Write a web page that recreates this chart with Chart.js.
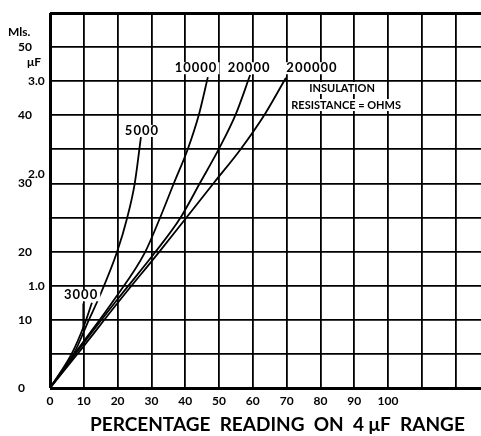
<!DOCTYPE html>
<html>
<head>
<meta charset="utf-8">
<script src="https://cdn.jsdelivr.net/npm/chart.js@4"></script>
<style>
  body { margin: 0; background: #fff; }
  #wrap { width: 481px; height: 436px; }
</style>
</head>
<body>
<div id="wrap"><canvas id="chart"></canvas></div>
<script>
// percentage reading (x) against capacity in Mls (y), one pair per insulation resistance
const pct3000 = [0, 6.5, 10.1, 12.4]
const mls3000 = [0, 5.1, 9.2, 12.5]
const pct5000 = [0, 7.1, 11.5, 14.8, 19.8, 22.8, 25.1, 26.9]
const mls5000 = [0, 5.1, 10, 13.6, 19.9, 24.9, 30.1, 36.8]
const pct10000 = [0, 7.4, 18.9, 28.1, 32.5, 36.7, 40.8, 44.1, 46.7]
const mls10000 = [0, 5.1, 12.9, 19.9, 24.9, 30.1, 35.1, 40.2, 45.6]
const pct20000 = [0, 7.7, 19.8, 31.1, 38.5, 44.4, 50.0, 55.0, 59.2]
const mls20000 = [0, 5.1, 12.9, 19.9, 24.9, 30.1, 35.1, 40.2, 45.9]
const pct200000 = [0, 8.3, 20.7, 32.2, 40.2, 48.5, 56.5, 63.6, 69.8]
const mls200000 = [0, 5.1, 12.9, 19.9, 24.9, 30.1, 35.1, 40.2, 45.5]

// little pointer under the 3000 label
const pctLeader = [9.8, 9.8]
const mlsLeader = [8.6, 12.4]

// axes
const xTicks = [0, 10, 20, 30, 40, 50, 60, 70, 80, 90, 100, 110, 120]
const xLabelMax = 100
const mlsLabels = [0, 10, 20, 30, 40, 50]
const mfTicks = [1, 2, 3]
const mfText = ['1.0', '2.0', '3.0']

// curve names, written next to the curve ends
const noteText = ['3000', '5000', '10000', '20000', '200000', 'INSULATION', 'RESISTANCE = OHMS']
const noteX = [9.2, 27.2, 43.2, 58.9, 77.5, 86.4, 87.6]
const noteY = [13.6, 37.7, 46.9, 46.9, 46.9, 44.0, 41.5]

const FONT = 'Lato'

function toPoints(xs, ys) {
    return xs.map((v, i) => ({x: v, y: ys[i]}))
}

function curve(xs, ys, w) {
    return {
        data: toPoints(xs, ys),
        borderColor: '#000',
        borderWidth: w || 1.8,
        pointRadius: 0,
        cubicInterpolationMode: 'monotone',
        fill: false
    }
}

const notes = {
    id: 'notes',
    afterDatasetsDraw(chart) {
        const ctx = chart.ctx
        const x = chart.scales.x
        const y = chart.scales.y
        ctx.save()
        ctx.textAlign = 'center'
        ctx.textBaseline = 'middle'
        noteText.forEach((t, i) => {
            ctx.font = (i < 5 ? 'bold 13px ' : 'bold 11px ') + FONT
            ctx.letterSpacing = i < 5 ? '1px' : '0px'
            const px = x.getPixelForValue(noteX[i])
            const py = y.getPixelForValue(noteY[i])
            const w = ctx.measureText(t).width
            ctx.fillStyle = '#fff'
            ctx.fillRect(px - w / 2 - 2, py - 6, w + 4, 12)
            ctx.fillStyle = '#000'
            ctx.fillText(t, px, py)
        })
        ctx.letterSpacing = '0px'

        // axis names
        const area = chart.chartArea
        ctx.textAlign = 'left'
        ctx.font = 'bold 12px ' + FONT
        ctx.fillText('Mls.', 8, 32)
        ctx.fillText('μF', 27, 62)
        ctx.font = 'bold 19px ' + FONT
        ctx.fillText('PERCENTAGE  READING  ON  4 μF  RANGE', area.left + 40, 425)
        ctx.restore()
    }
}

const edge = (v, a, b) => (v === a || v === b) ? 3 : 1.8

new Chart(document.getElementById('chart'), {
    type: 'line',
    data: {
        datasets: [
            curve(pct3000, mls3000),
            curve(pct5000, mls5000),
            curve(pct10000, mls10000),
            curve(pct20000, mls20000),
            curve(pct200000, mls200000),
            curve(pctLeader, mlsLeader, 1.4)
        ]
    },
    options: {
        responsive: true,
        maintainAspectRatio: false,
        animation: false,
        layout: { padding: { left: 18, top: 13, right: 0, bottom: 0 } },
        plugins: { legend: { display: false }, tooltip: { enabled: false } },
        scales: {
            x: {
                type: 'linear',
                min: 0,
                max: 127.5,
                afterBuildTicks: (s) => { s.ticks = xTicks.map(v => ({value: v})) },
                afterFit: (s) => { s.height = 48 },
                border: { display: false },
                grid: {
                    color: '#000',
                    lineWidth: (c) => c.tick && c.tick.value === 0 ? 3 : 1.8,
                    drawTicks: false
                },
                ticks: {
                    autoSkip: false,
                    maxRotation: 0,
                    padding: 6,
                    color: '#000',
                    font: { family: FONT, size: 12, weight: 'bold' },
                    callback: (v) => v <= xLabelMax ? String(v) : ''
                }
            },
            y: {
                type: 'linear',
                position: 'left',
                weight: 1,
                min: 0,
                max: 55,
                afterFit: (s) => { s.width = 32 },
                border: { display: false },
                grid: {
                    color: '#000',
                    lineWidth: (c) => c.tick ? edge(c.tick.value, 0, 55) : 1.8,
                    drawTicks: false
                },
                ticks: {
                    stepSize: 5,
                    autoSkip: false,
                    crossAlign: 'far',
                    padding: 0,
                    color: '#000',
                    font: { family: FONT, size: 12, weight: 'bold' },
                    callback: (v) => mlsLabels.includes(v) ? String(v) : ''
                }
            },
            mf: {
                type: 'linear',
                position: 'left',
                weight: 0,
                min: 0,
                max: 55 / 15,
                afterBuildTicks: (s) => { s.ticks = mfTicks.map(v => ({value: v})) },
                afterFit: (s) => { s.width = 0 },
                border: { display: false },
                grid: { display: false, drawTicks: false },
                ticks: {
                    autoSkip: false,
                    mirror: true,
                    crossAlign: 'near',
                    padding: -22,
                    color: '#000',
                    font: { family: FONT, size: 12, weight: 'bold', lineHeight: 1.6 },
                    // 2.0 sits a little above its line, clear of the 30
                    callback: (v) => {
                        const i = mfTicks.indexOf(v)
                        if (i < 0) return ''
                        return v === 2 ? [mfText[i], ''] : mfText[i]
                    }
                }
            }
        }
    },
    plugins: [notes]
})
</script>
</body>
</html>
